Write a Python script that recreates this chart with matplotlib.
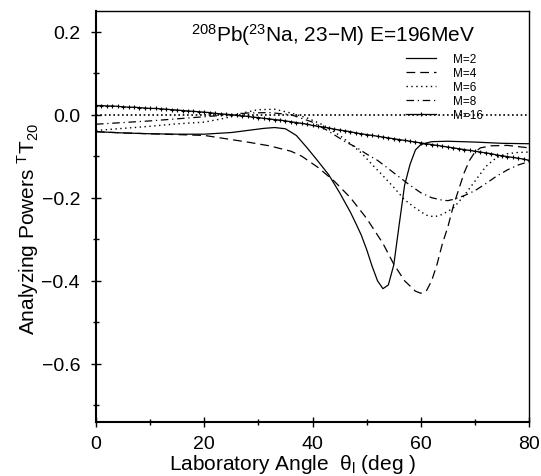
import matplotlib
matplotlib.use("Agg")
import matplotlib.pyplot as plt
from matplotlib.ticker import MultipleLocator

plt.rcParams['font.family'] = ['Liberation Sans', 'DejaVu Sans']
plt.rcParams['mathtext.default'] = 'regular'

x_m2 = [0, 5, 10, 15, 20, 25, 28, 31, 33, 35, 37, 39, 41, 43, 45, 47, 48, 49, 50, 51, 52,
        53, 54, 55, 56, 57, 58, 59, 60, 62, 65, 70, 75, 80]
y_m2 = [-0.041, -0.044, -0.046, -0.047, -0.047, -0.043, -0.038, -0.033, -0.031, -0.034,
        -0.050, -0.080, -0.112, -0.145, -0.188, -0.235, -0.262, -0.290, -0.325, -0.365,
        -0.400, -0.419, -0.410, -0.362, -0.265, -0.170, -0.120, -0.085, -0.072, -0.065,
        -0.064, -0.066, -0.069, -0.070]

x_m4 = [0, 5, 10, 15, 20, 24, 28, 32, 36, 38, 41, 44, 47, 50, 53, 55, 57, 59, 60, 61, 62,
        63, 64, 65, 66, 67, 68, 69, 70, 71, 73, 76, 80]
y_m4 = [-0.041, -0.044, -0.046, -0.048, -0.050, -0.058, -0.066, -0.075, -0.088, -0.100,
        -0.127, -0.160, -0.200, -0.250, -0.310, -0.360, -0.400, -0.425, -0.430, -0.425,
        -0.400, -0.360, -0.310, -0.270, -0.220, -0.180, -0.140, -0.110, -0.090, -0.080,
        -0.075, -0.074, -0.080]

x_m6 = [0, 5, 10, 15, 20, 24, 27, 30, 33, 36, 39, 42, 45, 47, 49, 51, 53, 55, 57, 59, 61,
        62.5, 64, 66, 68, 70, 72, 74, 76, 78, 80]
y_m6 = [-0.038, -0.033, -0.028, -0.022, -0.018, -0.008, 0.004, 0.012, 0.013, 0.004,
        -0.008, -0.025, -0.050, -0.070, -0.092, -0.120, -0.147, -0.175, -0.205, -0.225,
        -0.242, -0.246, -0.240, -0.225, -0.195, -0.160, -0.125, -0.103, -0.094, -0.091,
        -0.090]

x_m8 = [0, 5, 10, 15, 20, 24, 28, 32, 36, 40, 43, 46, 48, 50, 52, 54, 56, 58, 60, 62, 64,
        65, 66, 68, 70, 72, 74, 76, 78, 80]
y_m8 = [-0.023, -0.019, -0.015, -0.010, -0.005, -0.001, 0.004, 0.005, 0.000, -0.018,
        -0.040, -0.065, -0.078, -0.095, -0.110, -0.130, -0.150, -0.170, -0.188, -0.200,
        -0.206, -0.207, -0.204, -0.195, -0.183, -0.166, -0.148, -0.133, -0.121, -0.113]

x_m16 = list(range(0, 81))
y_m16 = [0.022, 0.022, 0.021, 0.021, 0.020, 0.019, 0.018, 0.018, 0.017, 0.016,
         0.015, 0.015, 0.014, 0.013, 0.012, 0.011, 0.010, 0.009, 0.008, 0.007,
         0.006, 0.005, 0.003, 0.002, 0.001, 0.000, -0.002, -0.003, -0.004, -0.006,
         -0.007, -0.009, -0.010, -0.012, -0.013, -0.015, -0.017, -0.019, -0.021, -0.023,
         -0.026, -0.028, -0.030, -0.032, -0.035, -0.037, -0.039, -0.041, -0.044, -0.046,
         -0.048, -0.050, -0.052, -0.054, -0.056, -0.058, -0.060, -0.062, -0.064, -0.066,
         -0.068, -0.070, -0.072, -0.074, -0.076, -0.078, -0.080, -0.082, -0.084, -0.086,
         -0.088, -0.090, -0.092, -0.094, -0.097, -0.099, -0.101, -0.103, -0.105, -0.107,
         -0.110]

x_ticks = [0, 20, 40, 60, 80]
y_ticks = [-0.6, -0.4, -0.2, 0.0, 0.2]
y_ticklabels = ['\u22120.6', '\u22120.4', '\u22120.2', '0.0', '0.2']

fig = plt.figure(figsize=(5.41, 4.77), dpi=100)
ax = fig.add_axes([0.1775, 0.1132, 0.8005, 0.862])

# zero reference line
ax.axhline(0.0, color='black', lw=1.2, ls=(0, (1, 1.6)))
ax.plot(x_m2, y_m2, color='black', lw=0.9, ls='-', label='M=2')
ax.plot(x_m4, y_m4, color='black', lw=0.9, ls=(0, (7, 4)), label='M=4')
ax.plot(x_m6, y_m6, color='black', lw=1.0, ls=(0, (1, 2.5)), label='M=6')
ax.plot(x_m8, y_m8, color='black', lw=0.9, ls=(0, (6, 3, 1, 3)), label='M=8')
ax.plot(x_m16, y_m16, color='black', lw=0.9, ls='-', marker='+', ms=3.5, mew=0.8,
        label='M=16')

ax.set_xlim(0, 80)
ax.set_ylim(-0.74, 0.25)
ax.set_xticks(x_ticks)
ax.set_yticks(y_ticks)
ax.set_yticklabels(y_ticklabels)
ax.xaxis.set_minor_locator(MultipleLocator(10))
ax.yaxis.set_minor_locator(MultipleLocator(0.1))
ax.tick_params(which='major', direction='inout', length=7, width=1, labelsize=14,
               top=False, right=False)
ax.tick_params(axis='y', which='major', pad=8)
ax.tick_params(axis='x', which='major', pad=6)
ax.tick_params(which='minor', direction='inout', length=4, width=1,
               top=False, right=False)
for side in ['left', 'bottom']:
    ax.spines[side].set_linewidth(1.5)
for side in ['top', 'right']:
    ax.spines[side].set_linewidth(1.0)

ax.set_xlabel(r'Laboratory Angle  $\theta_l$ (deg )', fontsize=15, labelpad=0)
ax.xaxis.label.set_x(0.455)
ax.set_ylabel(r'Analyzing Powers $^{T}$T$_{20}$', fontsize=15, labelpad=0)
ax.yaxis.label.set_y(0.472)

ax.text(0.548, 0.943, r'$^{208}$Pb($^{23}$Na, 23$-$M) E=196MeV', transform=ax.transAxes,
        ha='center', va='center', fontsize=15)

leg = ax.legend(loc='upper left', bbox_to_anchor=(0.715, 0.898), frameon=False,
                fontsize=8.5, handlelength=2.6, handletextpad=1.4, labelspacing=0.18,
                borderpad=0, borderaxespad=0)

fig.savefig('out.png', dpi=100)
